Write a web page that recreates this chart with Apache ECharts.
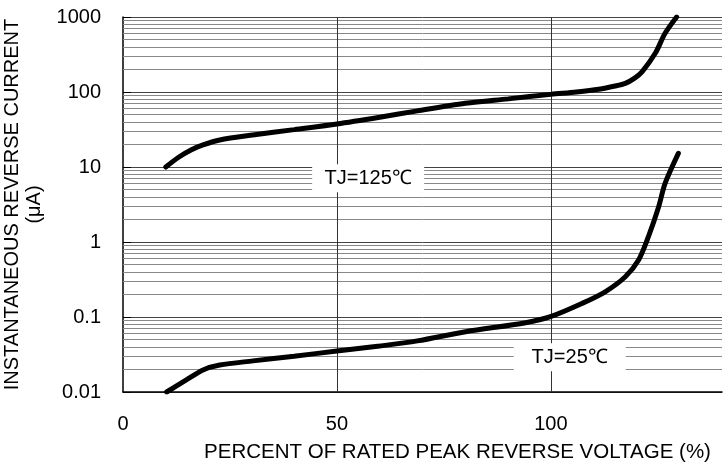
<!DOCTYPE html>
<html>
<head>
<meta charset="utf-8">
<script src="https://cdn.jsdelivr.net/npm/echarts@6/dist/echarts.min.js"></script>
<style>
  html, body { margin: 0; padding: 0; background: #fff; }
  #chart { width: 724px; height: 471px; }
</style>
</head>
<body>
<div id="chart"></div>
<script>
  // percent of rated peak reverse voltage
  const hotX = [10, 13, 16, 18.7, 22.6, 30.3, 40, 50, 60, 68.8, 80, 90, 100, 106, 111.2, 115, 117.4, 119.5, 121.3, 124.4, 126.7, 129.4];
  // reverse current, uA at TJ=125
  const hotY = [10, 13.5, 17, 19.7, 22.9, 26.7, 31.5, 37.4, 46, 56, 70.6, 81, 93, 100, 108.7, 120, 130.5, 152, 186, 328, 606, 1000];

  const coldX = [10.2, 14.8, 18.7, 22.6, 30.4, 40, 50, 60, 68.8, 80.1, 94.1, 99.9, 107.3, 112.7, 117.4, 120.5, 122.8, 125.2, 126.7, 129.8];
  // reverse current, uA at TJ=25
  const coldY = [0.01, 0.0145, 0.0197, 0.0229, 0.026, 0.030, 0.0352, 0.041, 0.048, 0.0637, 0.084, 0.101, 0.152, 0.217, 0.344, 0.575, 1.18, 2.96, 6.06, 15.2];

  const xTickLabels = ['0', '50', '100'];
  const yTickLabels = ['0.01', '0.1', '1', '10', '100', '1000'];
  const xGridLines = [50, 100];
  const decades = [0.01, 0.1, 1, 10, 100];
  const minorSteps = [2, 3, 4, 5, 6, 7, 8, 9];

  const labels = [
    {text: 'TJ=125℃', x: 57.3, y: 7.1},
    {text: 'TJ=25℃', x: 104.4, y: 0.029}
  ];

  let yMinor = [];
  decades.forEach(d => minorSteps.forEach(m => yMinor.push(+(d * m).toPrecision(3))));

  const font = "'Liberation Sans', Arial, sans-serif";
  let myChart = echarts.init(document.getElementById('chart'));

  let curve = (xs, ys) => xs.map((x, i) => [x, ys[i]]);

  myChart.setOption({
    animation: false,
    textStyle: {fontFamily: font},
    grid: {left: 123, right: 2, top: 17, bottom: 79, containLabel: false, outerBoundsMode: 'none'},
    xAxis: {
      type: 'value',
      min: 0,
      max: 140,
      interval: 50,
      name: 'PERCENT OF RATED PEAK REVERSE VOLTAGE (%)',
      nameLocation: 'middle',
      nameGap: 50,
      nameTextStyle: {fontSize: 20.5, color: '#000', fontFamily: font, padding: [0, 0, 0, 70]},
      axisLine: {lineStyle: {color: '#000', width: 1.5}},
      axisTick: {show: false},
      splitLine: {show: false},
      axisLabel: {
        fontSize: 20,
        color: '#000',
        fontFamily: font,
        margin: 22,
        formatter: v => {
          let i = Math.round(v / 50);
          return (v % 50 === 0 && i < xTickLabels.length) ? xTickLabels[i] : '';
        }
      }
    },
    yAxis: {
      type: 'log',
      logBase: 10,
      min: 0.01,
      max: 1000,
      name: 'INSTANTANEOUS REVERSE CURRENT\n(μA)',
      nameLocation: 'middle',
      nameRotate: 90,
      nameGap: 76,
      nameTextStyle: {fontSize: 20, color: '#000', fontFamily: font, lineHeight: 22},
      axisLine: {show: true, lineStyle: {color: '#000', width: 1.5}},
      axisTick: {show: true, inside: true, length: 8, lineStyle: {color: '#000'}},
      splitLine: {show: true, lineStyle: {color: '#444', width: 1}},
      axisLabel: {
        fontSize: 20,
        color: '#000',
        fontFamily: font,
        margin: 22,
        formatter: v => yTickLabels[Math.round(Math.log10(v)) + 2] || ''
      }
    },
    series: [
      {
        name: 'grid',
        type: 'line',
        data: [],
        silent: true,
        markLine: {
          z: 3,
          silent: true,
          symbol: 'none',
          label: {show: false},
          animation: false,
          data: [
            ...yMinor.map(v => ({yAxis: v, lineStyle: {color: '#888', width: 1, type: 'solid'}})),
            ...xGridLines.map(v => ({xAxis: v, lineStyle: {color: '#333', width: 1, type: 'solid'}}))
          ]
        },
        markPoint: {
          z: 6,
          silent: true,
          symbol: 'rect',
          symbolSize: [112, 28],
          itemStyle: {color: '#fff'},
          label: {show: true, position: 'inside', color: '#000', fontSize: 20, fontFamily: font},
          data: labels.map(l => ({coord: [l.x, l.y], value: l.text}))
        }
      },
      {
        name: 'TJ=125℃',
        type: 'line',
        z: 10,
        data: curve(hotX, hotY),
        smooth: 0.3,
        showSymbol: false,
        lineStyle: {color: '#000', width: 5, cap: 'round'}
      },
      {
        name: 'TJ=25℃',
        type: 'line',
        z: 10,
        data: curve(coldX, coldY),
        smooth: 0.3,
        showSymbol: false,
        lineStyle: {color: '#000', width: 5, cap: 'round'}
      }
    ]
  });
</script>
</body>
</html>
